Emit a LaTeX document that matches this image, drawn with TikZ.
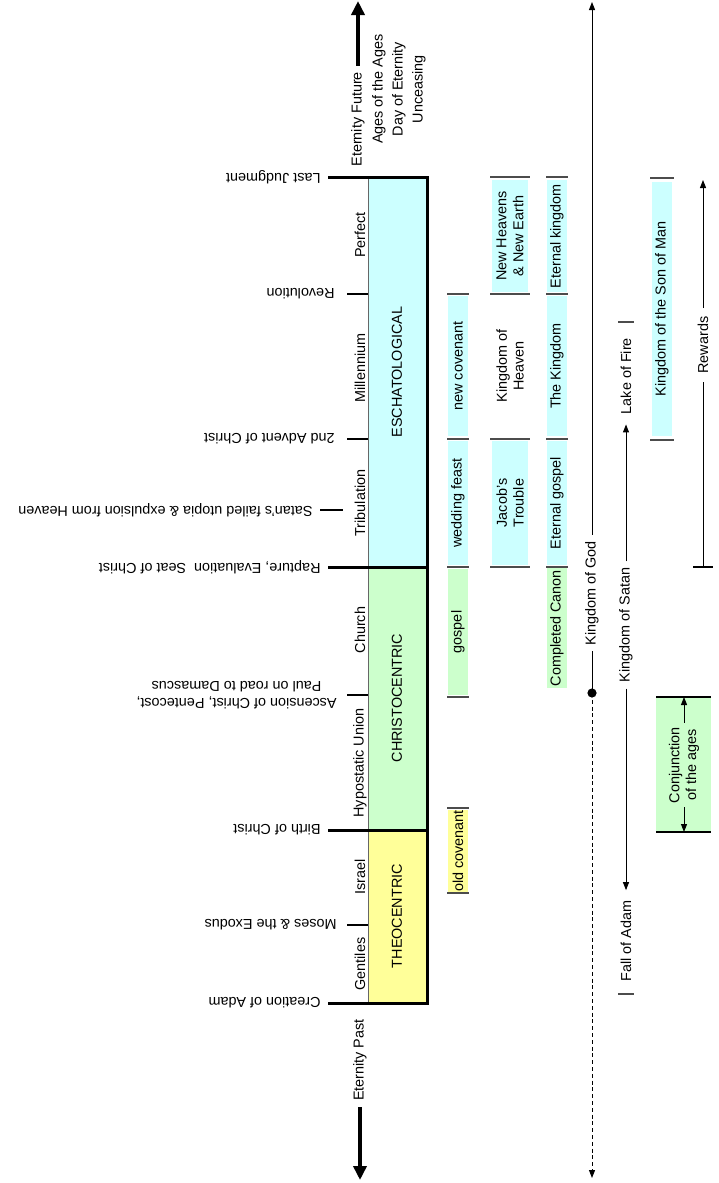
\documentclass[tikz,border=0pt]{standalone}
\usepackage{fontspec}
\setmainfont{Liberation Sans}
\usetikzlibrary{arrows.meta}

\definecolor{eschcol}{RGB}{204,255,255}
\definecolor{chrcol}{RGB}{204,255,204}
\definecolor{theocol}{RGB}{255,255,153}

\tikzset{
  txt/.style={font=\fontsize{7.2}{8.4}\selectfont, inner sep=0pt},
  vtxt/.style={txt, rotate=90, align=center},
  evtxt/.style={txt, rotate=180, anchor=west, align=center},
  band/.style={vtxt, minimum height=10pt},
  wideband/.style={vtxt, minimum height=18pt},
  bar/.style={line width=1.5pt},
  stub/.style={line width=1.4pt},
  ctick/.style={line width=0.9pt, black!70},
  bigarrow/.style={line width=2.2pt, -{Triangle[length=7pt,width=6.5pt]}},
  linearrow/.style={line width=0.5pt, -{Triangle[length=4pt,width=3pt]}},
}

\begin{document}
\begin{tikzpicture}[x=0.5pt, y=-0.5pt]
\useasboundingbox (0,0) rectangle (718,1183);

% Draw age bar
\fill[eschcol] (368,177) rectangle (427,567);
\fill[chrcol] (368,567) rectangle (427,830);
\fill[theocol] (368,830) rectangle (427,1003);
\draw[black!60, line width=0.4pt] (368,177) -- (368,1003);
\draw[bar] (328,177) -- (427,177) -- (427,1003) -- (328,1003);
\draw[bar] (328,567) -- (427,567);
\draw[bar] (328,830) -- (427,830);

% Minor events
\draw[stub] (347,294) -- (368,294);
\draw[stub] (347,439) -- (368,439);
\draw[stub] (347,695) -- (368,695);
\draw[stub] (347,925) -- (368,925);
\draw[stub, line width=1pt] (320,510) -- (343,510);

% Ages
\node[vtxt] (esch) at (397,372) {ESCHATOLOGICAL};
\node[vtxt] (chris) at (397,698) {CHRISTOCENTRIC};
\node[vtxt] (theo) at (397,916) {THEOCENTRIC};

% Periods
\node[vtxt] (perfect) at (360,235) {Perfect};
\node[vtxt] (millen) at (360,368) {Millennium};
\node[vtxt] (tribul) at (360,503) {Tribulation};
\node[vtxt] (church) at (360,630) {Church};
\node[vtxt] (hypost) at (360,763) {Hypostatic Union};
\node[vtxt] (israel) at (360,877) {Israel};
\node[vtxt] (gentil) at (360,964) {Gentiles};

% Events
\node[evtxt] (lastjudg) at (321,177) {Last Judgment};
\node[evtxt] (revol) at (335,294) {Revolution};
\node[evtxt] (advent) at (335,439) {2nd Advent of Christ};
\node[evtxt] (utopia) at (313,510) {Satan's failed utopia \& expulsion from Heaven};
\node[evtxt] (rapture) at (321,567) {Rapture, Evaluation\ \ Seat of Christ};
\node[evtxt] (ascens) at (337,695) {Ascension of Christ, Pentecost,\\Paul on road to Damascus};
\node[evtxt] (birth) at (321,830) {Birth of Christ};
\node[evtxt] (moses) at (337,925) {Moses \& the Exodus};
\node[evtxt] (creation) at (321,1003) {Creation of Adam};

% Eternity
\node[txt, rotate=90, anchor=west] (future) at (358,167) {Eternity Future};
\node[vtxt, font=\fontsize{7.2}{10}\selectfont] (ages) at (399,89) {Ages of the Ages\\Day of Eternity\\Unceasing};
\coordinate (futtip) at (358,1);
\draw[bigarrow, shorten <=3pt] (future.east) -- (futtip);
\node[vtxt] (past) at (360,1060) {Eternity Past};
\coordinate (pasttip) at (360,1180);
\draw[bigarrow, shorten <=3pt] (past.west) -- (pasttip);

% Covenants
\node[band, fill=eschcol, minimum width=70pt] (newcov) at (458,366) {new covenant};
\node[band, fill=eschcol, minimum width=62pt] (wedding) at (458,503) {wedding feast};
\node[band, fill=chrcol, minimum width=63pt] (gospel) at (458,632) {gospel};
\node[band, fill=theocol, minimum width=41pt] (oldcov) at (458,851) {old covenant};
\draw[ctick] (447,294) -- (469,294);
\draw[ctick] (447,439) -- (469,439);
\draw[ctick] (447,567) -- (469,567);
\draw[ctick] (447,697) -- (469,697);
\draw[ctick] (447,808) -- (469,808);
\draw[ctick] (447,893) -- (469,893);

% Kingdoms
\node[wideband, fill=eschcol, minimum width=56pt] (newheav) at (510,236) {New Heavens\\\& New Earth};
\node[wideband] (kheaven) at (510,366) {Kingdom of\\Heaven};
\node[wideband, fill=eschcol, minimum width=62pt] (jacob) at (510,503) {Jacob's\\Trouble};
\draw[ctick] (490,177) -- (530,177);
\draw[ctick] (490,294) -- (530,294);
\draw[ctick] (490,439) -- (530,439);
\draw[ctick] (490,567) -- (530,567);

\node[band, fill=eschcol, minimum width=56pt] (eternk) at (557,236) {Eternal kingdom};
\node[band, fill=eschcol, minimum width=70pt] (thekingd) at (557,366) {The Kingdom};
\node[band, fill=eschcol, minimum width=62pt] (eterng) at (557,503) {Eternal gospel};
\node[band, fill=chrcol, minimum width=60pt] (canon) at (557,628) {Completed Canon};
\draw[ctick] (546,177) -- (568,177);
\draw[ctick] (546,294) -- (568,294);
\draw[ctick] (546,439) -- (568,439);
\draw[ctick] (546,567) -- (568,567);

% Kingdom of God
\node[vtxt] (kgod) at (592,593) {Kingdom of God};
\coordinate (godtip) at (592,2);
\coordinate (godjoin) at (592,693);
\coordinate (godpast) at (592,1178);
\draw[linearrow, shorten <=3pt] (kgod.east) -- (godtip);
\draw[line width=0.5pt, shorten <=3pt] (kgod.west) -- (godjoin);
\draw[linearrow, dash pattern=on 2pt off 1.4pt] (godjoin) -- (godpast);
\fill (godjoin) circle (2.3pt);

% Kingdom of Satan
\node[vtxt] (ksatan) at (626,625) {Kingdom of Satan};
\node[vtxt] (fall) at (626,941) {Fall of Adam};
\node[vtxt] (lake) at (626,376) {Lake of Fire};
\draw[linearrow, shorten <=3pt, shorten >=5pt] (ksatan.west) -- (fall.east);
\draw[linearrow, shorten <=3pt, shorten >=5pt] (ksatan.east) -- (lake.west);
\draw[ctick] (618,322) -- (634,322);
\draw[ctick] (618,994) -- (634,994);

% Son of Man
\node[band, fill=eschcol, minimum width=127pt] (sonman) at (662,309) {Kingdom of the Son of Man};
\draw[ctick] (650,178) -- (674,178);
\draw[ctick] (650,440) -- (674,440);

% Rewards
\node[vtxt] (rewards) at (703,345) {Rewards};
\coordinate (rewstart) at (703,567);
\coordinate (rewtip) at (703,180);
\draw[line width=0.5pt, shorten >=4pt] (rewstart) -- (rewards.west);
\draw[linearrow, shorten <=4pt] (rewards.east) -- (rewtip);
\draw[line width=0.6pt] (693,567) -- (713,567);

% Conjunction of the ages
\fill[chrcol] (656,697) rectangle (711,832);
\draw[line width=0.6pt] (656,697) -- (711,697);
\draw[line width=0.6pt] (656,832) -- (711,832);
\node[vtxt] (conj) at (684,765) {Conjunction\\of the ages};
\coordinate (conjtop) at (684,697);
\coordinate (conjbot) at (684,832);
\draw[linearrow, shorten <=2pt] (conj.east) -- (conjtop);
\draw[linearrow, shorten <=2pt] (conj.west) -- (conjbot);
\end{tikzpicture}
\end{document}
